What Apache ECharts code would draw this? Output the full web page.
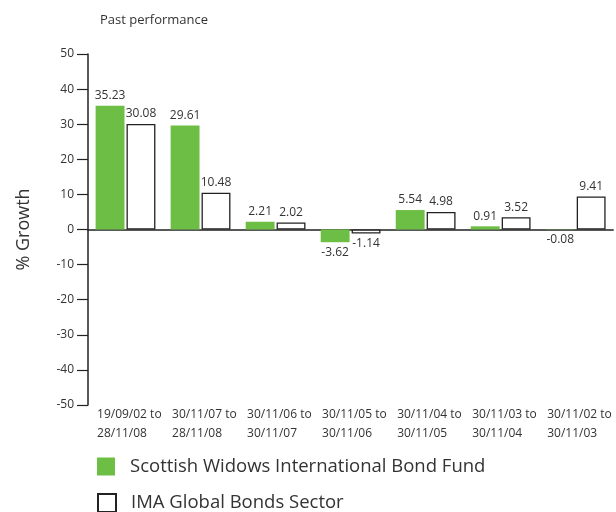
<!DOCTYPE html>
<html>
<head>
<meta charset="utf-8">
<script src="https://cdn.jsdelivr.net/npm/echarts@6/dist/echarts.min.js"></script>
<style>
  html, body { margin: 0; padding: 0; background: #fff; }
  #chart { width: 616px; height: 512px; }
</style>
</head>
<body>
<div id="chart"></div>
<script>
// Discrete-period growth, fund vs sector
const periods = [
  '19/09/02 to\n28/11/08',
  '30/11/07 to\n28/11/08',
  '30/11/06 to\n30/11/07',
  '30/11/05 to\n30/11/06',
  '30/11/04 to\n30/11/05',
  '30/11/03 to\n30/11/04',
  '30/11/02 to\n30/11/03'
];
const fundName = 'Scottish Widows International Bond Fund';
const sectorName = 'IMA Global Bonds Sector';
const fundGrowth = [35.23, 29.61, 2.21, -3.62, 5.54, 0.91, -0.08];
const sectorGrowth = [30.08, 10.48, 2.02, -1.14, 4.98, 3.52, 9.41];
const yTicks = [-50, -40, -30, -20, -10, 0, 10, 20, 30, 40, 50];

const FONT = '"Open Sans", "Noto Sans", sans-serif';
const TEXT = '#333';

// negative values get their label under the bar
function withLabels(values) {
  return values.map(v => ({
    value: v,
    label: { position: v < 0 ? 'bottom' : 'top' }
  }));
}

// one legend block per series, stacked under the plot
function legendRow(name, top) {
  return {
    left: 97,
    top: top,
    padding: 0,
    itemWidth: 18,
    itemHeight: 18,
    icon: 'rect',
    textStyle: { fontFamily: FONT, fontSize: 18.5, color: TEXT, padding: [0, 0, 0, 10] },
    data: [name]
  };
}

const chart = echarts.init(document.getElementById('chart'), null, { renderer: 'canvas' });
chart.setOption({
  animation: false,
  textStyle: { fontFamily: FONT },
  title: {
    text: 'Past performance',
    left: 95,
    top: 9,
    textStyle: { fontFamily: FONT, fontSize: 13, fontWeight: 'normal', color: TEXT }
  },
  legend: [legendRow(fundName, 457), legendRow(sectorName, 493)],
  grid: { left: 88, right: 0, top: 54, bottom: 107, containLabel: false },
  xAxis: {
    type: 'category',
    data: periods,
    axisLine: { onZero: true, lineStyle: { color: '#222', width: 1.5 } },
    axisTick: { show: false },
    axisLabel: {
      interval: 0,
      margin: 0,
      formatter: v => '{a|' + v + '}',
      rich: {
        a: {
          width: 66,
          padding: [0, 0, 0, 9],
          align: 'left',
          fontFamily: FONT,
          fontSize: 12,
          lineHeight: 19,
          color: TEXT
        }
      }
    },
    position: 'bottom'
  },
  yAxis: {
    type: 'value',
    min: yTicks[0],
    max: yTicks[yTicks.length - 1],
    interval: 10,
    name: '% Growth',
    nameLocation: 'middle',
    nameGap: 55,
    nameTextStyle: { fontFamily: FONT, fontSize: 18, color: TEXT },
    axisLine: { show: true, lineStyle: { color: '#222', width: 1.5 } },
    axisTick: { show: true, length: 11, lineStyle: { color: '#222', width: 1.2 } },
    axisLabel: { margin: 14, fontFamily: FONT, fontSize: 12, color: TEXT },
    splitLine: { show: false }
  },
  series: [
    {
      name: fundName,
      type: 'bar',
      data: withLabels(fundGrowth),
      barWidth: '38.5%',
      barGap: '7%',
      itemStyle: { color: '#6dbe45' },
      label: { show: true, distance: 4, fontFamily: FONT, fontSize: 12, color: TEXT }
    },
    {
      name: sectorName,
      type: 'bar',
      data: withLabels(sectorGrowth),
      barWidth: '38.5%',
      itemStyle: { color: '#fff', borderColor: '#222', borderWidth: 1.3 },
      label: { show: true, distance: 4, fontFamily: FONT, fontSize: 12, color: TEXT }
    }
  ]
});
</script>
</body>
</html>
